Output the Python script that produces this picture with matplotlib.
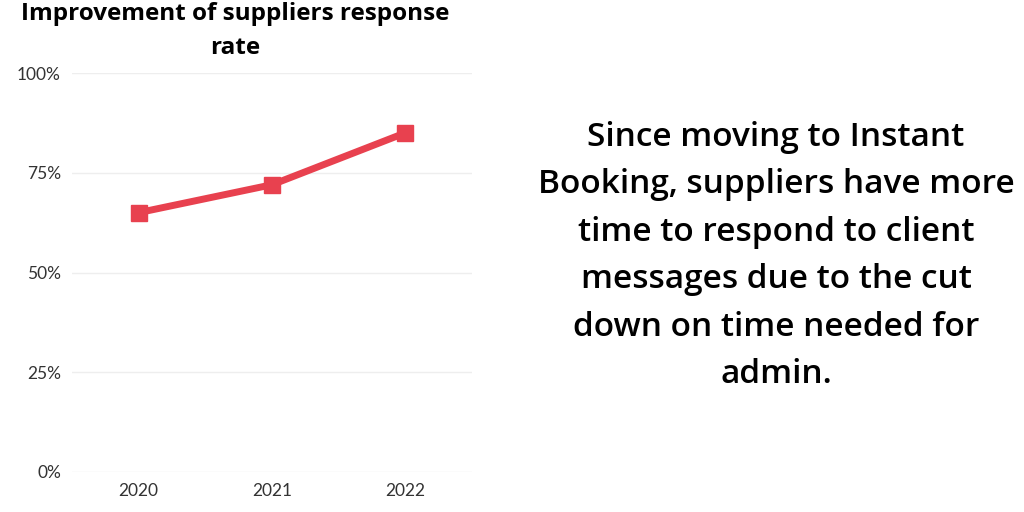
import matplotlib.pyplot as plt
from matplotlib.ticker import PercentFormatter

# Data
years = ['2020', '2021', '2022']
response_rate = [65, 72, 85]
y_ticks = [0, 25, 50, 75, 100]

note = ("Since moving to Instant\n"
        "Booking, suppliers have more\n"
        "time to respond to client\n"
        "messages due to the cut\n"
        "down on time needed for\n"
        "admin.")

fig = plt.figure(figsize=(10.24, 5.12), dpi=100)

# Axes box: x 72..472 px, y 73..472 px
ax = fig.add_axes([72 / 1024, 40 / 512, 400 / 1024, 399 / 512])

ax.plot(years, response_rate, color='#E8414F', linewidth=5,
        marker='s', markersize=11, solid_capstyle='butt')

ax.set_xlim(-0.5, 2.5)
ax.set_ylim(0, 100)
ax.set_yticks(y_ticks)
ax.yaxis.set_major_formatter(PercentFormatter(decimals=0))
ax.grid(axis='y', color='#eeeeee', linewidth=1)
ax.set_axisbelow(True)
for s in ax.spines.values():
    s.set_visible(False)
ax.tick_params(length=0, labelsize=12.5, labelcolor='#333333', pad=8)
for lbl in ax.get_xticklabels() + ax.get_yticklabels():
    lbl.set_family('Lato')

fig.text(235 / 1024, 1 - 31 / 512, "Improvement of suppliers response\nrate",
         ha='center', va='center', fontsize=17.5, fontweight='bold',
         family='Open Sans', linespacing=1.5, color='black')

fig.text(776 / 1024, 1 - 256 / 512, note, ha='center', va='center',
         fontsize=24, fontweight='semibold', family='Open Sans',
         linespacing=1.58, color='black')

fig.savefig('out.png', dpi=100, facecolor='white')
